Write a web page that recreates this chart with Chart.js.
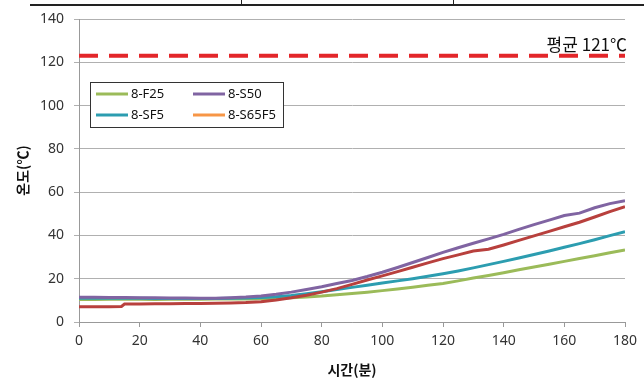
<!DOCTYPE html>
<html><head><meta charset="utf-8">
<script src="https://cdn.jsdelivr.net/npm/chart.js@4/dist/chart.umd.min.js"></script>
<style>
html,body{margin:0;padding:0;background:#fff;}
#wrap{position:relative;width:644px;height:380px;overflow:hidden;}
canvas{position:absolute;left:0;top:0;}
.topline{position:absolute;left:30px;top:4px;width:614px;height:0;border-top:2px solid #222;}
.vline{position:absolute;top:0;width:0;height:5px;border-left:1px solid #222;}
</style></head>
<body>
<div id="wrap">
<canvas id="c" width="644" height="380"></canvas>
<div class="topline"></div><div class="vline" style="left:241px"></div><div class="vline" style="left:453px"></div>
</div>
<script>
// ---- data ----
const times = [0,5,10,14,15,20,25,30,35,40,45,50,55,60,65,70,75,80,85,90,95,100,105,110,115,120,125,130,135,140,145,150,155,160,165,170,175,180];
const seriesF25   = [10.4,10.4,10.5,10.5,10.5,10.5,10.4,10.5,10.5,10.5,10.6,10.6,10.6,10.7,10.9,11.2,11.6,12.0,12.6,13.2,13.8,14.5,15.3,16.1,17.0,17.8,19.0,20.3,21.5,22.8,24.1,25.4,26.7,28.0,29.3,30.6,32.0,33.3];
const seriesS50   = [11.4,11.4,11.3,11.3,11.3,11.2,11.2,11.1,11.1,11.0,11.0,11.2,11.5,12.0,12.8,13.8,15.0,16.3,17.8,19.2,21.0,23.0,25.2,27.5,29.8,32.2,34.3,36.4,38.4,40.5,42.8,45.0,47.1,49.2,50.3,52.8,54.7,56.0];
const seriesSF5   = [11.0,11.0,11.0,11.0,11.0,11.0,10.9,10.9,10.9,10.9,10.9,11.0,11.1,11.3,11.7,12.3,13.1,14.0,15.0,16.0,17.0,18.0,19.0,20.0,21.1,22.3,23.6,25.0,26.5,28.0,29.6,31.2,32.8,34.5,36.2,38.0,39.9,41.7];
const seriesS65F5 = [7.1,7.1,7.1,7.2,8.3,8.3,8.4,8.4,8.5,8.6,8.7,8.8,9.0,9.4,10.2,11.2,12.4,13.8,15.4,17.4,19.4,21.3,23.3,25.3,27.3,29.3,31.0,32.8,33.6,35.6,37.7,39.8,41.9,44.0,46.1,48.5,51.0,53.3];
const seriesLabels = ['8-F25','8-S50','8-SF5','8-S65F5'];
const avgTimes = [0,180];
const avgValue = 123;
const avgLabel = '평균 121℃';
const xTicks = [0,20,40,60,80,100,120,140,160,180];
const yTicks = [0,20,40,60,80,100,120,140];
const xTitle = '시간(분)';
const yTitle = '온도(℃)';

// ---- styles ----
const lineColors   = ['#9BBB59','#8064A2','#2C9DB0','#B8403D'];
const legendColors = ['#9BBB59','#8064A2','#2C9DB0','#F79646'];
const FONT = "'Noto Sans','Noto Sans CJK KR',sans-serif";
const KFONT = "'Noto Sans CJK KR','Noto Sans',sans-serif";

const pts = (vals) => times.map((t,i)=>({x:t,y:vals[i]}));
const allSeries = [seriesF25, seriesS50, seriesSF5, seriesS65F5];
const drawOrder = [0,2,3,1];

const datasets = [];
datasets.push({label:'avg', data: avgTimes.map(t=>({x:t,y:avgValue})), borderColor:'#E3262A', borderWidth:4, borderDash:[19,11], pointRadius:0, fill:false, order:0});
allSeries.forEach((s,i)=>{
  datasets.push({label:seriesLabels[i], data:pts(s), borderColor:lineColors[i], backgroundColor:legendColors[i], borderWidth:3, pointRadius:0, tension:0, fill:false, order: 5 - drawOrder.indexOf(i)});
});

const legendPlugin = {
  id:'boxLegend',
  afterDraw(chart){
    const ctx = chart.ctx;
    const ca = chart.chartArea;
    const bx = ca.left + 11, by = ca.top + 63, bw = 193, bh = 45;
    ctx.save();
    ctx.fillStyle = '#fff';
    ctx.fillRect(bx,by,bw,bh);
    ctx.strokeStyle = '#333';
    ctx.lineWidth = 1;
    ctx.strokeRect(bx+0.5,by+0.5,bw,bh);
    ctx.font = "13px " + FONT;
    ctx.textBaseline = 'middle';
    ctx.textAlign = 'left';
    const cols = [bx+6, bx+103];
    const rows = [by+12, by+33];
    seriesLabels.forEach((lab,i)=>{
      const cx = cols[i%2], cy = rows[Math.floor(i/2)];
      ctx.strokeStyle = legendColors[i];
      ctx.lineWidth = 3;
      ctx.beginPath(); ctx.moveTo(cx, cy); ctx.lineTo(cx+32, cy); ctx.stroke();
      ctx.fillStyle = '#111';
      ctx.fillText(lab, cx+35, cy+0.5);
    });
    ctx.restore();
  }
};

const avgLabelPlugin = {
  id:'avgLabel',
  afterDatasetsDraw(chart){
    const ctx = chart.ctx;
    const y = chart.scales.y.getPixelForValue(avgValue);
    ctx.save();
    ctx.font = "17px " + KFONT;
    ctx.fillStyle = '#111';
    ctx.textAlign = 'right';
    ctx.textBaseline = 'bottom';
    ctx.fillText(avgLabel, chart.chartArea.right + 2, y - 3);
    ctx.restore();
  }
};

new Chart(document.getElementById('c'), {
  type:'line',
  data:{datasets},
  plugins:[legendPlugin, avgLabelPlugin],
  options:{
    responsive:false,
    devicePixelRatio:1,
    animation:false,
    layout:{padding:{left:0,right:19,top:19,bottom:0}},
    plugins:{legend:{display:false}, tooltip:{enabled:false}},
    scales:{
      x:{
        type:'linear', min:0, max:180,
        afterBuildTicks(s){ s.ticks = xTicks.map(v=>({value:v})); },
        afterFit(s){ s.height = 58; },
        ticks:{color:'#333', font:{size:14, family:FONT}, padding:6, maxRotation:0},
        grid:{drawOnChartArea:false, drawTicks:true, tickLength:5, color:'#999'},
        border:{color:'#999'},
        title:{display:true, text:xTitle, color:'#111', font:{size:14, weight:'bold', family:KFONT}, padding:{top:0,bottom:2}}
      },
      y:{
        min:0, max:140,
        afterBuildTicks(s){ s.ticks = yTicks.map(v=>({value:v})); },
        afterFit(s){ s.width = 79; },
        ticks:{color:'#333', font:{size:14, family:FONT}, padding:10},
        grid:{color:'#B0B0B0', tickLength:5},
        border:{color:'#999'},
        title:{display:true, text:yTitle, color:'#111', font:{size:14, weight:'bold', family:KFONT}, padding:{top:14,bottom:0}}
      }
    }
  }
});
</script>
</body></html>
